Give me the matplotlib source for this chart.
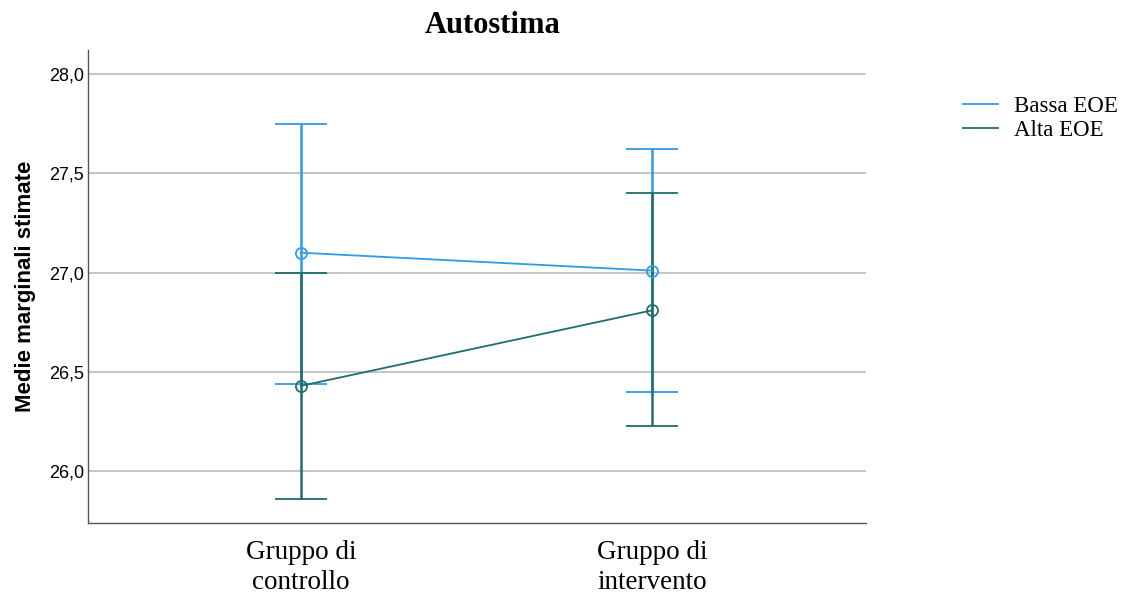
import matplotlib.pyplot as plt

# Stime
gruppi = ['Gruppo di\ncontrollo', 'Gruppo di\nintervento']
serie = ['Bassa EOE', 'Alta EOE']
medie_bassa = [27.10, 27.01]
sup_bassa = [27.75, 27.62]
inf_bassa = [26.44, 26.40]
medie_alta = [26.43, 26.81]
sup_alta = [27.00, 27.40]
inf_alta = [25.86, 26.23]
colori = ['#2F9BE6', '#1E6E6B']
yticks = [26.0, 26.5, 27.0, 27.5, 28.0]

fig = plt.figure(figsize=(11.25, 6), dpi=100)
ax = fig.add_axes([0.0782, 0.1283, 0.6916, 0.7884])

x = list(range(len(gruppi)))
dati = [(medie_bassa, sup_bassa, inf_bassa), (medie_alta, sup_alta, inf_alta)]
for nome, (m, s, i), col in zip(serie, dati, colori):
    err = [[a - b for a, b in zip(m, i)], [b - a for a, b in zip(m, s)]]
    ax.errorbar(x, m, yerr=err, color=col, lw=1.3, elinewidth=1.8,
                capsize=18.5, capthick=1.8, marker='o', ms=8, mfc='none',
                mec=col, mew=1.3, label=nome)

ax.set_xlim(-0.607, 1.61)
ax.set_ylim(25.74, 28.12)
ax.set_yticks(yticks)
ax.set_yticklabels([f'{v:.1f}'.replace('.', ',') for v in yticks],
                   family='Liberation Sans', fontsize=13)
ax.set_xticks(x)
ax.set_xticklabels(gruppi, family='Liberation Serif', fontsize=19.5,
                   linespacing=1.3)
ax.tick_params(length=0, pad=3)
ax.tick_params(axis='x', pad=12)
ax.grid(axis='y', color='#BBBBBB', lw=1.2)
ax.set_axisbelow(True)
for s in ['top', 'right']:
    ax.spines[s].set_visible(False)
for s in ['left', 'bottom']:
    ax.spines[s].set_color('#555555')
    ax.spines[s].set_linewidth(1.0)

ax.set_ylabel('Medie marginali stimate', family='Liberation Sans',
              fontsize=16, fontweight='bold', labelpad=9)
ax.set_title('Autostima', family='Liberation Serif', fontsize=22,
             fontweight='bold', x=0.52, pad=12)

h, l = ax.get_legend_handles_labels()
h = [plt.Line2D([], [], color=c, lw=1.3) for c in colori]
fig.legend(h, l, loc='upper left', bbox_to_anchor=(0.838, 0.875),
           frameon=False, prop={'family': 'Liberation Serif', 'size': 16.5},
           handlelength=1.5, handletextpad=0.7, labelspacing=0.15)

fig.savefig('out.png', dpi=100)
